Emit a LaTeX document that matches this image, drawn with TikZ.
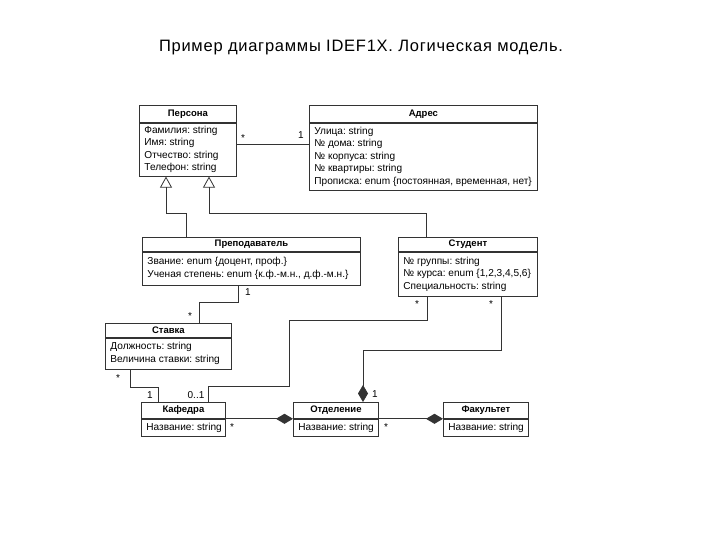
\documentclass[tikz,border=0pt]{standalone}
\usepackage{fontspec}
\setmainfont{Liberation Sans}
\usetikzlibrary{arrows.meta}

\begin{document}
\frenchspacing
\begin{tikzpicture}
[x=1pt,y=-1pt,
  lineDecorate/.style={draw=black!80,line width=0.8pt},%
  isaDecorate/.style={lineDecorate,-{Triangle[open,length=11pt,width=12pt]}},%
  partDecorate/.style={lineDecorate,-{Diamond[length=17pt,width=10pt]}},%
  headDecorate/.style={lineDecorate,anchor=north west,inner sep=0pt,
    font=\fontsize{9.5}{11}\selectfont\bfseries},%
  bodyDecorate/.style={lineDecorate,anchor=north,inner xsep=5pt,inner ysep=1pt,
    font=\fontsize{10.1}{12.5}\selectfont},%
  multDecorate/.style={inner sep=0pt,font=\fontsize{10}{11}\selectfont}]
\useasboundingbox (0,0) rectangle (720,540);
\node (title) at (361,48) {\fontsize{16.5}{19}\selectfont\addfontfeature{LetterSpace=4.5}Пример диаграммы IDEF1X. Логическая модель.};
%% classes: header and attribute part
\foreach \nm/\x/\y/\w/\hh/\bh/\ttl/\body in {
  persona/139/105/97/17/53/Персона/{Фамилия: string\\Имя: string\\Отчество: string\\Телефон: string},
  adres/309/105/228/17/67/Адрес/{Улица: string\\№ дома: string\\№ корпуса: string\\№ квартиры: string\\Прописка: enum \{постоянная, временная, нет\}},
  prep/142/237/218/14/33/Преподаватель/{Звание: enum \{доцент, проф.\}\\Ученая степень: enum \{к.ф.-м.н., д.ф.-м.н.\}},
  stud/398/237/139/14/44/Студент/{№ группы: string\\№ курса: enum \{1,2,3,4,5,6\}\\Специальность: string},
  stavka/105/323/126/14/31/Ставка/{Должность: string\\Величина ставки: string},
  kafedra/141/402/84/16/17/Кафедра/{Название: string},
  otdel/293/402/85/16/17/Отделение/{Название: string},
  fakult/443/402/85/16/17/Факультет/{Название: string}}
{
  \pgfmathsetmacro\tw{\w-10}
  \node (\nm) at (\x,\y) [headDecorate,minimum width=\w pt,minimum height=\hh pt] {\ttl};
  \node (\nm-b) at (\nm.south) [bodyDecorate,minimum height=\bh pt]
    {\makebox[\tw pt][l]{\begin{tabular}{@{}l@{}}\body\end{tabular}}};
}
%% multiplicities
\foreach \txt/\x/\y [count=\i] in {
  */243/138, 1/301/135, 1/248/292, */190/316, */118/378, 1/150/395,
  0..1/196/395, */417/304, 1/375/394, */491/304, */232/427, */386/427}
{
  \node (m\i) at (\x,\y) [multDecorate] {\txt};
}
%% associations
\draw[lineDecorate] (persona-b.east |- 0,144) -- (adres-b.west |- 0,144);
\draw[isaDecorate] (prep.north -| 186,0) -- ++(0,-24) -| (persona-b.south -| 166,0);
\draw[isaDecorate] (stud.north -| 426,0) -- ++(0,-24) -| (persona-b.south -| 209,0);
\draw[lineDecorate] (prep-b.south -| 238,0) -- ++(0,17) -| (stavka.north -| 199,0);
\draw[lineDecorate] (stavka-b.south -| 130,0) -- ++(0,18) -| (kafedra.north -| 158,0);
\draw[lineDecorate] (kafedra.north -| 208,0) -- ++(0,-16) -| (289,320) -| (stud-b.south -| 427,0);
\draw[partDecorate] (stud-b.south -| 501,0) -- ++(0,54) -| (otdel.north -| 363,0);
\draw[partDecorate] (kafedra.south east) -- (otdel.south west);
\draw[partDecorate] (otdel.south east) -- (fakult.south west);
\end{tikzpicture}
\end{document}
